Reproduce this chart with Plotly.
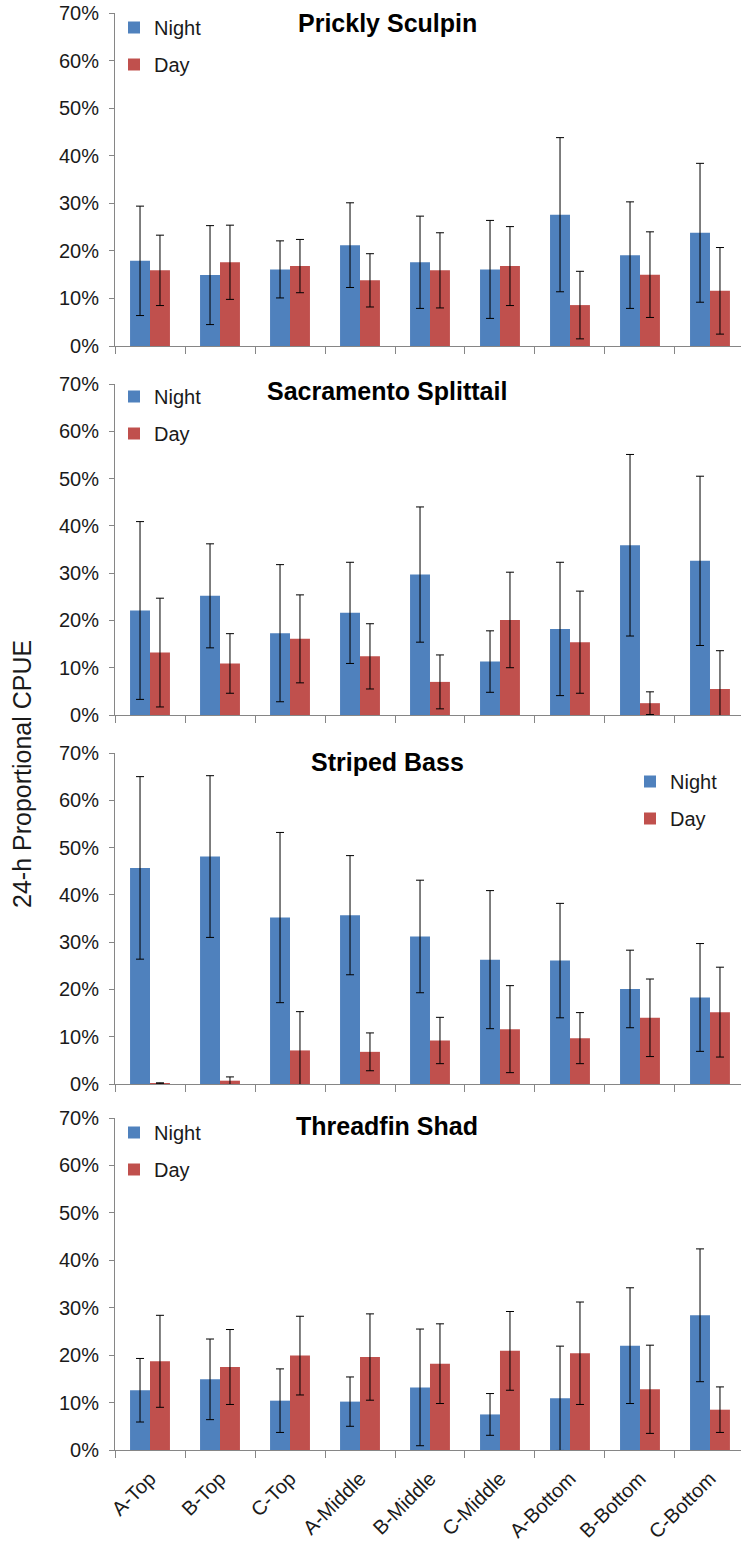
import plotly.graph_objects as go

categories = ["A-Top", "B-Top", "C-Top", "A-Middle", "B-Middle", "C-Middle",
              "A-Bottom", "B-Bottom", "C-Bottom"]
y_ticks = [0, 10, 20, 30, 40, 50, 60, 70]
y_tick_labels = ["0%", "10%", "20%", "30%", "40%", "50%", "60%", "70%"]

species = ["Prickly Sculpin", "Sacramento Splittail", "Striped Bass", "Threadfin Shad"]

sculpin_night = [17.9, 14.9, 16.1, 21.2, 17.6, 16.1, 27.6, 19.1, 23.8]
sculpin_night_err = [11.5, 10.4, 6.0, 8.9, 9.7, 10.3, 16.2, 11.2, 14.6]
sculpin_day = [15.9, 17.6, 16.8, 13.8, 15.9, 16.8, 8.6, 15.0, 11.6]
sculpin_day_err = [7.4, 7.8, 5.6, 5.6, 7.9, 8.3, 7.1, 9.0, 9.1]

splittail_night = [22.1, 25.2, 17.3, 21.6, 29.7, 11.3, 18.2, 35.9, 32.6]
splittail_night_err = [18.8, 11.0, 14.5, 10.7, 14.3, 6.5, 14.1, 19.2, 17.9]
splittail_day = [13.2, 10.9, 16.1, 12.4, 7.0, 20.1, 15.4, 2.5, 5.5]
splittail_day_err = [11.5, 6.3, 9.3, 6.9, 5.7, 10.1, 10.8, 2.4, 8.1]

bass_night = [45.7, 48.1, 35.2, 35.7, 31.2, 26.3, 26.1, 20.1, 18.3]
bass_night_err = [19.3, 17.1, 18.0, 12.6, 11.9, 14.6, 12.1, 8.2, 11.4]
bass_day = [0.15, 0.7, 7.1, 6.8, 9.2, 11.6, 9.7, 14.0, 15.2]
bass_day_err = [0.1, 0.8, 8.2, 4.0, 4.9, 9.2, 5.4, 8.2, 9.5]

shad_night = [12.6, 14.9, 10.4, 10.2, 13.2, 7.5, 10.9, 22.0, 28.4]
shad_night_err = [6.7, 8.5, 6.7, 5.2, 12.3, 4.4, 11.0, 12.2, 14.0]
shad_day = [18.7, 17.5, 19.9, 19.6, 18.2, 20.9, 20.4, 12.8, 8.5]
shad_day_err = [9.7, 7.9, 8.3, 9.1, 8.4, 8.3, 10.8, 9.3, 4.8]

night_vals = [sculpin_night, splittail_night, bass_night, shad_night]
night_errs = [sculpin_night_err, splittail_night_err, bass_night_err, shad_night_err]
day_vals = [sculpin_day, splittail_day, bass_day, shad_day]
day_errs = [sculpin_day_err, splittail_day_err, bass_day_err, shad_day_err]

NIGHT = "#4F81BD"
DAY = "#C0504D"
FONT = "Liberation Sans, Arial, sans-serif"
AXC = "#868686"
TXT = "#1a1a1a"

W, H = 741, 1542
L = 115
PW = W - L

# pixel positions of each panel (top=70%, bottom=0%)
panel_px = [(13, 346), (384, 715), (753, 1084), (1118, 1450)]
legend_px = [(114, 8), (114, 377), (630, 762), (114, 1113)]
title_py = [23, 391, 762, 1126]

def px_x(p):
    return (p - L) / PW

def px_y(p):
    return 1 - p / H

fig = go.Figure()
layout = dict(
    width=W, height=H,
    margin=dict(l=L, r=0, t=0, b=0, autoexpand=False),
    paper_bgcolor="white", plot_bgcolor="white",
    barmode="group", bargap=0.43, bargroupgap=0,
    font=dict(family=FONT, size=20, color=TXT),
    annotations=[],
)

for i in range(4):
    sfx = "" if i == 0 else str(i + 1)
    leg = "legend" + sfx
    xa, ya = "x" + sfx, "y" + sfx
    fig.add_trace(go.Bar(
        x=categories, y=night_vals[i], name="Night",
        marker=dict(color=NIGHT, line=dict(width=0)),
        error_y=dict(type="data", array=night_errs[i], color="black", thickness=1, width=4),
        xaxis=xa, yaxis=ya, legend=leg, legendgroup="n" + str(i),
    ))
    fig.add_trace(go.Bar(
        x=categories, y=day_vals[i], name="Day",
        marker=dict(color=DAY, line=dict(width=0)),
        error_y=dict(type="data", array=day_errs[i], color="black", thickness=1, width=4),
        xaxis=xa, yaxis=ya, legend=leg, legendgroup="d" + str(i),
    ))
    top, bot = panel_px[i]
    layout["xaxis" + sfx] = dict(
        domain=[0, 1], anchor=ya, type="category",
        categoryorder="array", categoryarray=categories,
        range=[-0.5, 8.443], automargin=False,
        showline=True, linecolor=AXC, linewidth=1,
        ticks="outside", tickson="boundaries", ticklen=7, tickcolor=AXC,
        ticklabelstandoff=8,
        showgrid=False, zeroline=False,
        showticklabels=(i == 3), tickangle=-45,
        tickfont=dict(family=FONT, size=20, color=TXT),
    )
    layout["yaxis" + sfx] = dict(
        domain=[px_y(bot), px_y(top)], anchor=xa,
        range=[0, 70], tickmode="array", tickvals=y_ticks, ticktext=y_tick_labels,
        automargin=False,
        showline=True, linecolor=AXC, linewidth=1,
        ticks="outside", ticklen=5, tickcolor=AXC, ticklabelstandoff=6,
        showgrid=False, zeroline=False,
        tickfont=dict(family=FONT, size=20, color=TXT),
    )
    lx, ly = legend_px[i]
    layout[leg] = dict(
        x=px_x(lx), y=px_y(ly), xanchor="left", yanchor="top",
        bgcolor="rgba(0,0,0,0)", font=dict(family=FONT, size=20, color=TXT),
        tracegroupgap=8, orientation="v",
    )
    layout["annotations"].append(dict(
        text="<b>" + species[i] + "</b>", xref="paper", yref="paper",
        x=px_x(387), y=px_y(title_py[i]), xanchor="center", yanchor="middle",
        showarrow=False, font=dict(family=FONT, size=25, color="black"),
    ))

layout["annotations"].append(dict(
    text="24-h Proportional CPUE", xref="paper", yref="paper",
    x=px_x(22), y=px_y(774), xanchor="center", yanchor="middle",
    textangle=-90, showarrow=False,
    font=dict(family=FONT, size=25, color=TXT),
))

fig.update_layout(**layout)
fig.write_html("out.html")
